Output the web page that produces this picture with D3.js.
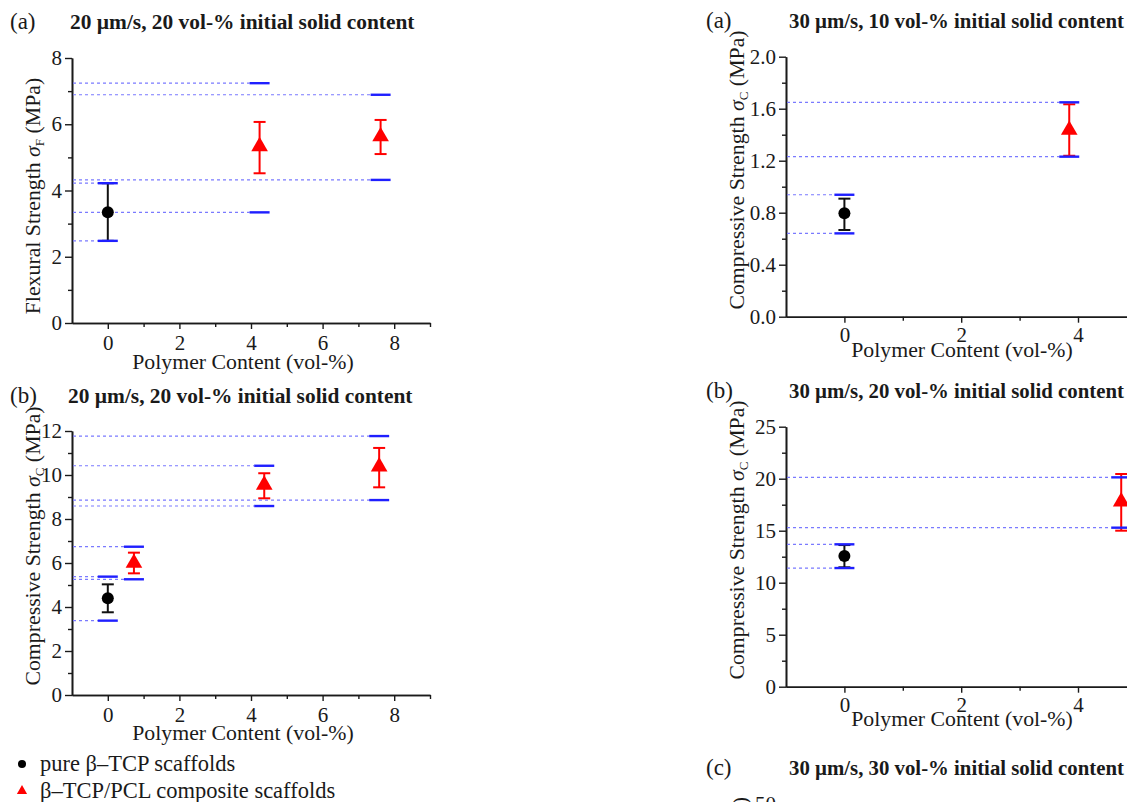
<!DOCTYPE html>
<html>
<head>
<meta charset="utf-8">
<script src="https://cdn.jsdelivr.net/npm/d3@7"></script>
<style>
body { margin: 0; background: #fff; }
text { font-family: "Liberation Serif", "Times New Roman", serif; fill: #1a1a1a; }
</style>
</head>
<body>
<svg id="chart" width="1127" height="802"></svg>
<script>
//------ données ------
// (a) gauche : flexion, 20 µm/s, 20 vol-%
const flexPureX = [0], flexPureMean = [3.34], flexPureLo = [2.48], flexPureHi = [4.22]
const flexCompX = [4.24, 7.62], flexCompMean = [5.33, 5.63], flexCompLo = [4.52, 5.10], flexCompHi = [6.07, 6.13]
const flexRefY = [7.24, 6.89, 4.32, 4.22, 3.34, 2.48]
const flexRefX = [4.24, 7.62, 7.62, 0, 4.24, 0]

// (b) gauche : compression, 20 µm/s, 20 vol-%
const comp20PureX = [0], comp20PureMean = [4.4], comp20PureLo = [3.76], comp20PureHi = [5.03]
const comp20CompX = [0.73, 4.37, 7.58], comp20CompMean = [6.0, 9.55, 10.38]
const comp20CompLo = [5.53, 8.94, 9.44], comp20CompHi = [6.47, 10.08, 11.23]
const comp20RefY = [11.77, 10.42, 8.86, 8.59, 6.74, 5.38, 5.26, 3.38]
const comp20RefX = [7.58, 4.37, 7.58, 4.37, 0.73, 0, 0.73, 0]

// (a) droite : compression, 30 µm/s, 10 vol-%
const c3010PureX = [0], c3010PureMean = [0.795], c3010PureLo = [0.667], c3010PureHi = [0.908]
const c3010CompX = [3.85], c3010CompMean = [1.436], c3010CompLo = [1.238], c3010CompHi = [1.634]
const c3010RefY = [1.649, 1.231, 0.938, 0.641]
const c3010RefX = [3.85, 3.85, 0, 0]

// (b) droite : compression, 30 µm/s, 20 vol-%
const c3020PureX = [0], c3020PureMean = [12.57], c3020PureLo = [11.48], c3020PureHi = [13.62]
const c3020CompX = [4.74], c3020CompMean = [17.8], c3020CompLo = [15.0], c3020CompHi = [20.45]
const c3020RefY = [20.13, 15.29, 13.69, 11.41]
const c3020RefX = [4.74, 4.74, 0, 0]

// ticks
const xTicksLeft = [0, 2, 4, 6, 8], xMinorLeft = [-1, 1, 3, 5, 7, 9]
const xTicksRight = [0, 2, 4], xMinorRight = [-1, 1, 3, 5]
const yTicksFlex = [0, 2, 4, 6, 8], yMinorFlex = [1, 3, 5, 7]
const yTicksComp20 = [0, 2, 4, 6, 8, 10, 12], yMinorComp20 = [1, 3, 5, 7, 9, 11]
const yTicks3010 = [0, 0.4, 0.8, 1.2, 1.6, 2.0], yMinor3010 = [0.2, 0.6, 1.0, 1.4, 1.8]
const yTicks3020 = [0, 5, 10, 15, 20, 25], yMinor3020 = [2.5, 7.5, 12.5, 17.5, 22.5]

const legendLabels = ["pure β–TCP scaffolds", "β–TCP/PCL composite scaffolds"]

//------ panneaux ------
const svg = d3.select("#chart")
const FS = 21      // graduations
const FSL = 21.8   // titres d'axes

function zip(xs, m, lo, hi) {
    return xs.map((x, i) => ({ x: x, m: m[i], lo: lo[i], hi: hi[i] }))
}

const panels = [
    {
        letter: "(a)", title: "20 µm/s, 20 vol-% initial solid content", letterX: 10, titleX: 70, titleY: 29, titleFS: 21.4,
        xDom: [-1, 9], xRange: [72, 430], yDom: [0, 8], yRange: [323, 58],
        xTicks: xTicksLeft, xMinor: xMinorLeft, yTicks: yTicksFlex, yMinor: yMinorFlex, yFmt: d3.format("d"),
        yName: "Flexural Strength ", yIdx: "F", yLabX: 33, yLabY: 196, xLabX: 243, xLabOff: 46, xPad: 6, segHalf: 10,
        pure: zip(flexPureX, flexPureMean, flexPureLo, flexPureHi),
        comp: zip(flexCompX, flexCompMean, flexCompLo, flexCompHi),
        refY: flexRefY, refX: flexRefX
    },
    {
        letter: "(b)", title: "20 µm/s, 20 vol-% initial solid content", letterX: 10, titleX: 68, titleY: 403, titleFS: 21.4,
        xDom: [-1, 9], xRange: [72, 430], yDom: [0, 12], yRange: [695, 431],
        xTicks: xTicksLeft, xMinor: xMinorLeft, yTicks: yTicksComp20, yMinor: yMinorComp20, yFmt: d3.format("d"),
        yName: "Compressive Strength ", yIdx: "C", yLabX: 33, yLabY: 546, xLabX: 243, xLabOff: 45, xPad: 6, segHalf: 10,
        pure: zip(comp20PureX, comp20PureMean, comp20PureLo, comp20PureHi),
        comp: zip(comp20CompX, comp20CompMean, comp20CompLo, comp20CompHi),
        refY: comp20RefY, refX: comp20RefX
    },
    {
        letter: "(a)", title: "30 µm/s, 10 vol-% initial solid content", letterX: 706, titleX: 789, titleY: 28, titleFS: 20.8,
        xDom: [-1, 5], xRange: [786, 1136.4], yDom: [0, 2], yRange: [316.7, 56.7],
        xTicks: xTicksRight, xMinor: xMinorRight, yTicks: yTicks3010, yMinor: yMinor3010, yFmt: d3.format(".1f"),
        yName: "Compressive Strength ", yIdx: "C", yLabX: 737, yLabY: 170, xLabX: 962, xLabOff: 40, xPad: 4, segHalf: 10,
        pure: zip(c3010PureX, c3010PureMean, c3010PureLo, c3010PureHi),
        comp: zip(c3010CompX, c3010CompMean, c3010CompLo, c3010CompHi),
        refY: c3010RefY, refX: c3010RefX
    },
    {
        letter: "(b)", title: "30 µm/s, 20 vol-% initial solid content", letterX: 706, titleX: 789, titleY: 398, titleFS: 20.8,
        xDom: [-1, 5], xRange: [786, 1136.4], yDom: [0, 25], yRange: [686.7, 426.7],
        xTicks: xTicksRight, xMinor: xMinorRight, yTicks: yTicks3020, yMinor: yMinor3020, yFmt: d3.format("d"),
        yName: "Compressive Strength ", yIdx: "C", yLabX: 737, yLabY: 540, xLabX: 962, xLabOff: 39, xPad: 4, segHalf: 10,
        pure: zip(c3020PureX, c3020PureMean, c3020PureLo, c3020PureHi),
        comp: zip(c3020CompX, c3020CompMean, c3020CompLo, c3020CompHi),
        refY: c3020RefY, refX: c3020RefX
    }
]

function yLabel(g, cx, cy, name, idx, anchor) {
    let t = g.append("text")
        .attr("transform", `translate(${cx + 7},${cy}) rotate(-90)`)
        .attr("text-anchor", anchor || "middle")
        .attr("font-size", FSL)
    t.append("tspan").text(name)
    t.append("tspan").attr("font-style", "italic").text("σ")
    t.append("tspan").attr("font-size", 13).attr("dy", 4).text(idx)
    t.append("tspan").attr("dy", -4).text(" (MPa)")
}

function styleAxis(sel) {
    sel.selectAll("path.domain").attr("stroke", "#1a1a1a").attr("stroke-width", 1.6)
    sel.selectAll(".tick line").attr("stroke", "#1a1a1a").attr("stroke-width", 1.4)
    sel.selectAll("text").attr("font-size", FS).attr("font-family", null).attr("fill", "#1a1a1a")
}

function drawPanel(p) {
    let g = svg.append("g")
    let x = d3.scaleLinear().domain(p.xDom).range(p.xRange)
    let y = d3.scaleLinear().domain(p.yDom).range(p.yRange)
    let y0 = p.yRange[0], x0 = p.xRange[0]

    // titres
    g.append("text").attr("x", p.letterX).attr("y", p.titleY).attr("font-size", 23).text(p.letter)
    g.append("text").attr("x", p.titleX).attr("y", p.titleY).attr("font-size", p.titleFS)
        .attr("font-weight", "bold").text(p.title)

    // axes mineurs
    g.append("g").attr("transform", `translate(${x0},0)`)
        .call(d3.axisLeft(y).tickValues(p.yMinor).tickSize(4).tickSizeOuter(0).tickFormat(""))
        .call(styleAxis)
    g.append("g").attr("transform", `translate(0,${y0})`)
        .call(d3.axisBottom(x).tickValues(p.xMinor.filter(v => v > p.xDom[0])).tickSize(4).tickSizeOuter(0).tickFormat(""))
        .call(styleAxis)
    // axes majeurs
    g.append("g").attr("transform", `translate(${x0},0)`)
        .call(d3.axisLeft(y).tickValues(p.yTicks).tickSize(7).tickSizeOuter(0).tickPadding(3).tickFormat(p.yFmt))
        .call(styleAxis)
    g.append("g").attr("transform", `translate(0,${y0})`)
        .call(d3.axisBottom(x).tickValues(p.xTicks).tickSize(6).tickSizeOuter(0).tickPadding(p.xPad).tickFormat(d3.format("d")))
        .call(styleAxis)

    // libellés des axes
    g.append("text").attr("x", p.xLabX).attr("y", y0 + p.xLabOff).attr("text-anchor", "middle")
        .attr("font-size", FSL).text("Polymer Content (vol-%)")
    yLabel(g, p.yLabX, p.yLabY, p.yName, p.yIdx)

    // barres d'erreur
    let series = [{ d: p.pure, c: "#111" }, { d: p.comp, c: "#ff0000" }]
    series.forEach(s => {
        let eb = g.append("g").selectAll("g").data(s.d).enter().append("g")
        eb.append("line").attr("x1", d => x(d.x)).attr("x2", d => x(d.x))
            .attr("y1", d => y(d.lo)).attr("y2", d => y(d.hi)).attr("stroke", s.c).attr("stroke-width", 2)
        eb.append("line").attr("x1", d => x(d.x) - 6).attr("x2", d => x(d.x) + 6)
            .attr("y1", d => y(d.lo)).attr("y2", d => y(d.lo)).attr("stroke", s.c).attr("stroke-width", 2)
        eb.append("line").attr("x1", d => x(d.x) - 6).attr("x2", d => x(d.x) + 6)
            .attr("y1", d => y(d.hi)).attr("y2", d => y(d.hi)).attr("stroke", s.c).attr("stroke-width", 2)
    })

    // lignes de référence
    let refs = p.refY.map((v, i) => ({ y: v, x: p.refX[i] }))
    g.append("g").selectAll("line").data(refs).enter().append("line")
        .attr("x1", x0 + 1).attr("x2", d => x(d.x) - p.segHalf)
        .attr("y1", d => y(d.y)).attr("y2", d => y(d.y))
        .attr("stroke", "#7a7aff").attr("stroke-width", 1.2).attr("stroke-dasharray", "3,3")
    g.append("g").selectAll("line").data(refs).enter().append("line")
        .attr("x1", d => x(d.x) - p.segHalf).attr("x2", d => x(d.x) + p.segHalf)
        .attr("y1", d => y(d.y)).attr("y2", d => y(d.y))
        .attr("stroke", "#1f1fff").attr("stroke-width", 2.4)

    // marqueurs
    g.append("g").selectAll("circle").data(p.pure).enter().append("circle")
        .attr("cx", d => x(d.x)).attr("cy", d => y(d.m)).attr("r", 6).attr("fill", "#000")
    g.append("g").selectAll("path").data(p.comp).enter().append("path")
        .attr("d", d3.symbol(d3.symbolTriangle).size(120))
        .attr("transform", d => `translate(${x(d.x)},${y(d.m)})`).attr("fill", "#ff0000")
}

panels.forEach(drawPanel)

//------ panneau (c) coupé en bas ------
const gc = svg.append("g")
gc.append("text").attr("x", 706).attr("y", 775).attr("font-size", 23).text("(c)")
gc.append("text").attr("x", 789).attr("y", 775).attr("font-size", 20.8).attr("font-weight", "bold")
    .text("30 µm/s, 30 vol-% initial solid content")
const yC = d3.scaleLinear().domain([0, 50]).range([1063, 804])
gc.append("g").attr("transform", "translate(786,0)")
    .call(d3.axisLeft(yC).tickValues([50]).tickSize(7).tickSizeOuter(0).tickPadding(3))
    .call(styleAxis)
yLabel(gc, 740, 797, "Compressive Strength ", "C", "end")

//------ légende ------
const leg = svg.append("g")
leg.append("circle").attr("cx", 22).attr("cy", 764).attr("r", 4).attr("fill", "#000")
leg.append("path").attr("d", d3.symbol(d3.symbolTriangle).size(45))
    .attr("transform", "translate(22,791)").attr("fill", "#ff0000")
leg.selectAll("text.leg").data(legendLabels).enter().append("text")
    .attr("class", "leg").attr("x", 40).attr("y", (d, i) => 771 + i * 27)
    .attr("font-size", 22.5).text(d => d)
</script>
</body>
</html>
